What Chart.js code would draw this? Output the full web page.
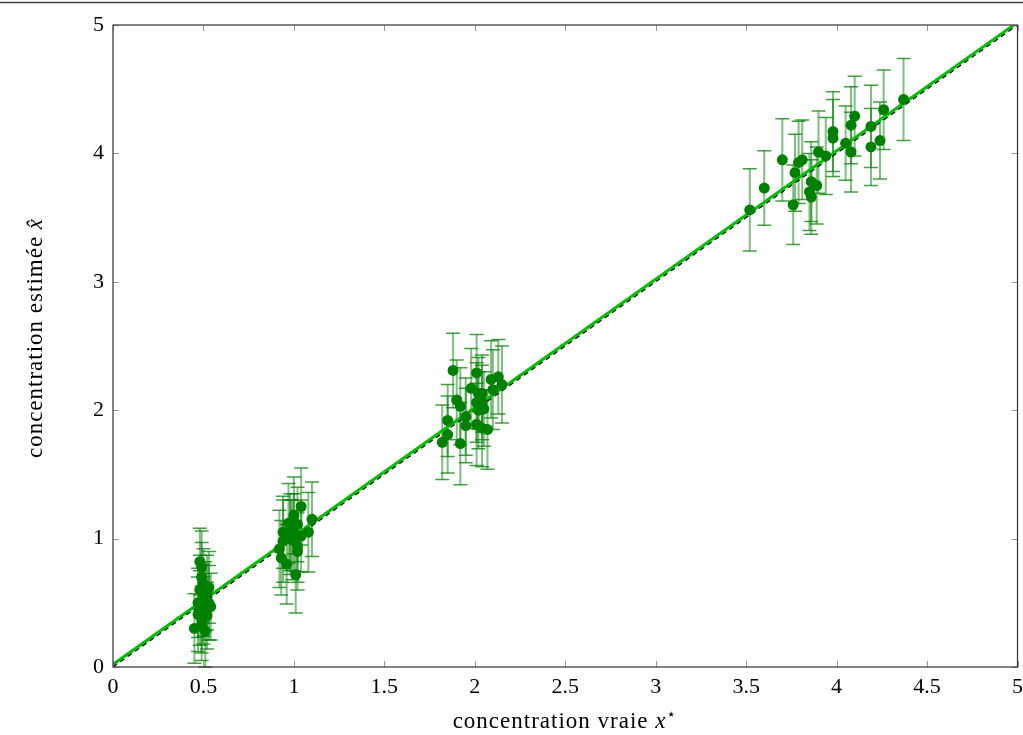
<!DOCTYPE html>
<html>
<head>
<meta charset="utf-8">
<script src="https://cdn.jsdelivr.net/npm/chart.js@4"></script>
<style>
  html, body { margin: 0; padding: 0; background: #fff; }
  #wrap { width: 1023px; height: 735px; }
</style>
</head>
<body>
<div id="wrap"><canvas id="chart" width="1023" height="735"></canvas></div>
<script>
// true concentration, estimated concentration, half-width of the error bar
const trueX = [
  0.48, 0.49, 0.48, 0.52, 0.54, 0.50, 0.47, 0.49, 0.47, 0.45, 0.49, 0.50, 0.48, 0.51, 0.53, 0.50, 0.52, 0.51, 0.49, 0.53,
  1.04, 1.10, 1.08, 1.04, 1.00, 1.02, 0.97, 0.98, 0.94, 0.94, 0.92, 0.93, 0.99, 1.02, 1.02, 1.01, 0.98, 0.96, 1.00,
  1.88, 1.90, 1.92, 1.85, 1.85, 1.82, 1.92, 1.95, 1.95, 1.98, 2.01, 2.02, 2.04, 2.01, 2.04, 2.02, 2.01, 2.04, 2.07, 2.05, 2.09, 2.10, 2.13, 2.15,
  3.52, 3.60, 3.70, 3.76, 3.77, 3.79, 3.81, 3.85, 3.86, 3.86, 3.89, 3.90, 3.94, 3.98, 3.98, 4.05, 4.08, 4.08, 4.10, 4.19, 4.19, 4.24, 4.26, 4.37
];
const estY = [
  0.82, 0.78, 0.60, 0.58, 0.47, 0.52, 0.50, 0.37, 0.41, 0.30, 0.33, 0.44, 0.46, 0.55, 0.62, 0.65, 0.40, 0.28, 0.70, 0.50,
  1.25, 1.15, 1.05, 1.02, 1.05, 1.11, 1.12, 1.05, 1.05, 0.98, 0.92, 0.85, 0.99, 0.90, 0.94, 0.72, 1.01, 0.80, 1.18,
  2.31, 2.08, 2.03, 1.92, 1.81, 1.75, 1.74, 1.95, 1.88, 2.17, 2.29, 2.13, 2.13, 2.06, 2.06, 2.00, 1.89, 1.86, 1.85, 2.01, 2.24, 2.16, 2.26, 2.20,
  3.56, 3.73, 3.95, 3.60, 3.85, 3.93, 3.95, 3.70, 3.66, 3.78, 3.75, 4.01, 3.98, 4.17, 4.12, 4.08, 4.01, 4.22, 4.29, 4.05, 4.21, 4.10, 4.34, 4.42
];
const errY = [
  0.26, 0.28, 0.27, 0.29, 0.26, 0.28, 0.27, 0.26, 0.29, 0.27, 0.28, 0.26, 0.29, 0.27, 0.28, 0.27, 0.26, 0.28, 0.27, 0.29,
  0.30, 0.29, 0.31, 0.28, 0.30, 0.29, 0.31, 0.30, 0.28, 0.32, 0.30, 0.29, 0.31, 0.30, 0.28, 0.30, 0.29, 0.31, 0.30,
  0.29, 0.31, 0.30, 0.28, 0.30, 0.29, 0.32, 0.30, 0.29, 0.31, 0.30, 0.28, 0.30, 0.31, 0.29, 0.30, 0.32, 0.30, 0.31, 0.29, 0.30, 0.31, 0.29, 0.30,
  0.32, 0.29, 0.32, 0.31, 0.30, 0.32, 0.31, 0.30, 0.29, 0.31, 0.30, 0.32, 0.30, 0.31, 0.30, 0.29, 0.31, 0.30, 0.31, 0.30, 0.32, 0.30, 0.31, 0.32
];
// reference line x = x and fitted line
const identityLine = [[0, 0], [5, 5]];
const fitLine = [[0, 0.02], [5, 5.02]];

const xTicks = [0, 0.5, 1, 1.5, 2, 2.5, 3, 3.5, 4, 4.5, 5];
const yTicks = [0, 1, 2, 3, 4, 5];

const FONT = '"Liberation Serif", "DejaVu Serif", serif';

// error bars, frame, inward ticks and axis titles
const decorations = {
  id: 'decorations',
  beforeDatasetsDraw(chart) {
    const ctx = chart.ctx;
    const xs = chart.scales.x, ys = chart.scales.y;
    ctx.save();
    trueX.forEach((x, i) => {
      const px = xs.getPixelForValue(x);
      const top = ys.getPixelForValue(estY[i] + errY[i]);
      const bot = ys.getPixelForValue(estY[i] - errY[i]);
      ctx.strokeStyle = 'rgba(0,128,0,0.5)';
      ctx.lineWidth = 2;
      ctx.beginPath();
      ctx.moveTo(px, top);
      ctx.lineTo(px, bot);
      ctx.stroke();
      ctx.strokeStyle = 'rgba(0,128,0,0.75)';
      ctx.lineWidth = 1.5;
      ctx.beginPath();
      ctx.moveTo(px - 7, top); ctx.lineTo(px + 7, top);
      ctx.moveTo(px - 7, bot); ctx.lineTo(px + 7, bot);
      ctx.stroke();
    });
    ctx.restore();
  },
  afterDraw(chart) {
    const ctx = chart.ctx;
    const a = chart.chartArea;
    const xs = chart.scales.x, ys = chart.scales.y;
    ctx.save();
    // page rule at the very top
    ctx.strokeStyle = '#444';
    ctx.lineWidth = 1.5;
    ctx.beginPath();
    ctx.moveTo(0, 2.5); ctx.lineTo(chart.width, 2.5);
    ctx.stroke();
    // inward ticks
    ctx.strokeStyle = '#999';
    ctx.lineWidth = 1;
    ctx.beginPath();
    xTicks.forEach(v => {
      const p = Math.round(xs.getPixelForValue(v)) + 0.5;
      ctx.moveTo(p, a.bottom); ctx.lineTo(p, a.bottom - 6);
      ctx.moveTo(p, a.top); ctx.lineTo(p, a.top + 6);
    });
    yTicks.forEach(v => {
      const p = Math.round(ys.getPixelForValue(v)) + 0.5;
      ctx.moveTo(a.left, p); ctx.lineTo(a.left + 6, p);
      ctx.moveTo(a.right, p); ctx.lineTo(a.right - 6, p);
    });
    ctx.stroke();
    // frame
    ctx.strokeStyle = '#333';
    ctx.lineWidth = 1.2;
    ctx.strokeRect(a.left, a.top, a.right - a.left, a.bottom - a.top);

    // axis titles with italic variables
    ctx.fillStyle = '#000';
    ctx.textBaseline = 'alphabetic';
    ctx.letterSpacing = '1px';
    const reg = '23px ' + FONT, ita = 'italic 23px ' + FONT, sup = '15px "DejaVu Sans", sans-serif';

    // x title
    ctx.font = reg;
    const t1 = 'concentration vraie ';
    const w1 = ctx.measureText(t1).width;
    ctx.font = ita;
    const w2 = ctx.measureText('x').width;
    ctx.font = sup;
    const w3 = ctx.measureText('⋆').width;
    let sx = (a.left + a.right) / 2 - (w1 + w2 + w3 + 1) / 2;
    const by = 728;
    ctx.font = reg; ctx.textAlign = 'left';
    ctx.fillText(t1, sx, by);
    ctx.font = ita;
    ctx.fillText('x', sx + w1, by);
    ctx.font = sup;
    ctx.fillText('⋆', sx + w1 + w2, by - 9);

    // y title (rotated)
    ctx.save();
    ctx.translate(42, 338);
    ctx.rotate(-Math.PI / 2);
    ctx.font = reg;
    const u1 = 'concentration estimée ';
    const v1 = ctx.measureText(u1).width;
    ctx.font = ita;
    const v2 = ctx.measureText('x̂').width;
    const sy = -(v1 + v2) / 2;
    ctx.font = reg;
    ctx.fillText(u1, sy, 0);
    ctx.font = ita;
    ctx.fillText('x̂', sy + v1, 0);
    ctx.restore();

    ctx.restore();
  }
};

new Chart(document.getElementById('chart'), {
  type: 'scatter',
  data: {
    datasets: [{
      label: 'estimations',
      data: trueX.map((x, i) => ({ x: x, y: estY[i] })),
      backgroundColor: '#008000',
      borderColor: '#008000',
      pointRadius: 5.5,
      pointBorderWidth: 0,
      order: 0
    }, {
      label: 'x = x*',
      data: identityLine.map(p => ({ x: p[0], y: p[1] })),
      showLine: true,
      borderColor: '#000',
      borderWidth: 1.2,
      borderDash: [5, 4],
      pointRadius: 0,
      order: 1
    }, {
      label: 'ajustement',
      data: fitLine.map(p => ({ x: p[0], y: p[1] })),
      showLine: true,
      borderColor: 'rgb(0,190,0)',
      borderWidth: 3,
      pointRadius: 0,
      order: 2
    }]
  },
  options: {
    responsive: false,
    animation: false,
    layout: { padding: { top: 25, right: 4, left: 0, bottom: 0 } },
    plugins: {
      legend: { display: false },
      tooltip: { enabled: false }
    },
    scales: {
      x: {
        type: 'linear',
        min: 0, max: 5,
        afterBuildTicks: s => { s.ticks = xTicks.map(v => ({ value: v })); },
        afterFit: s => { s.height = 68; s.paddingLeft = 0; s.paddingRight = 0; },
        grid: { display: false, drawTicks: false },
        border: { display: false },
        ticks: {
          padding: 7,
          color: '#000',
          font: { family: FONT, size: 22 },
          maxRotation: 0,
          callback: v => String(v)
        }
      },
      y: {
        type: 'linear',
        min: 0, max: 5,
        afterBuildTicks: s => { s.ticks = yTicks.map(v => ({ value: v })); },
        afterFit: s => { s.width = 113; s.paddingTop = 0; s.paddingBottom = 0; },
        grid: { display: false, drawTicks: false },
        border: { display: false },
        ticks: {
          padding: 9,
          color: '#000',
          font: { family: FONT, size: 22 },
          callback: v => String(v)
        }
      }
    }
  },
  plugins: [decorations]
});
</script>
</body>
</html>
